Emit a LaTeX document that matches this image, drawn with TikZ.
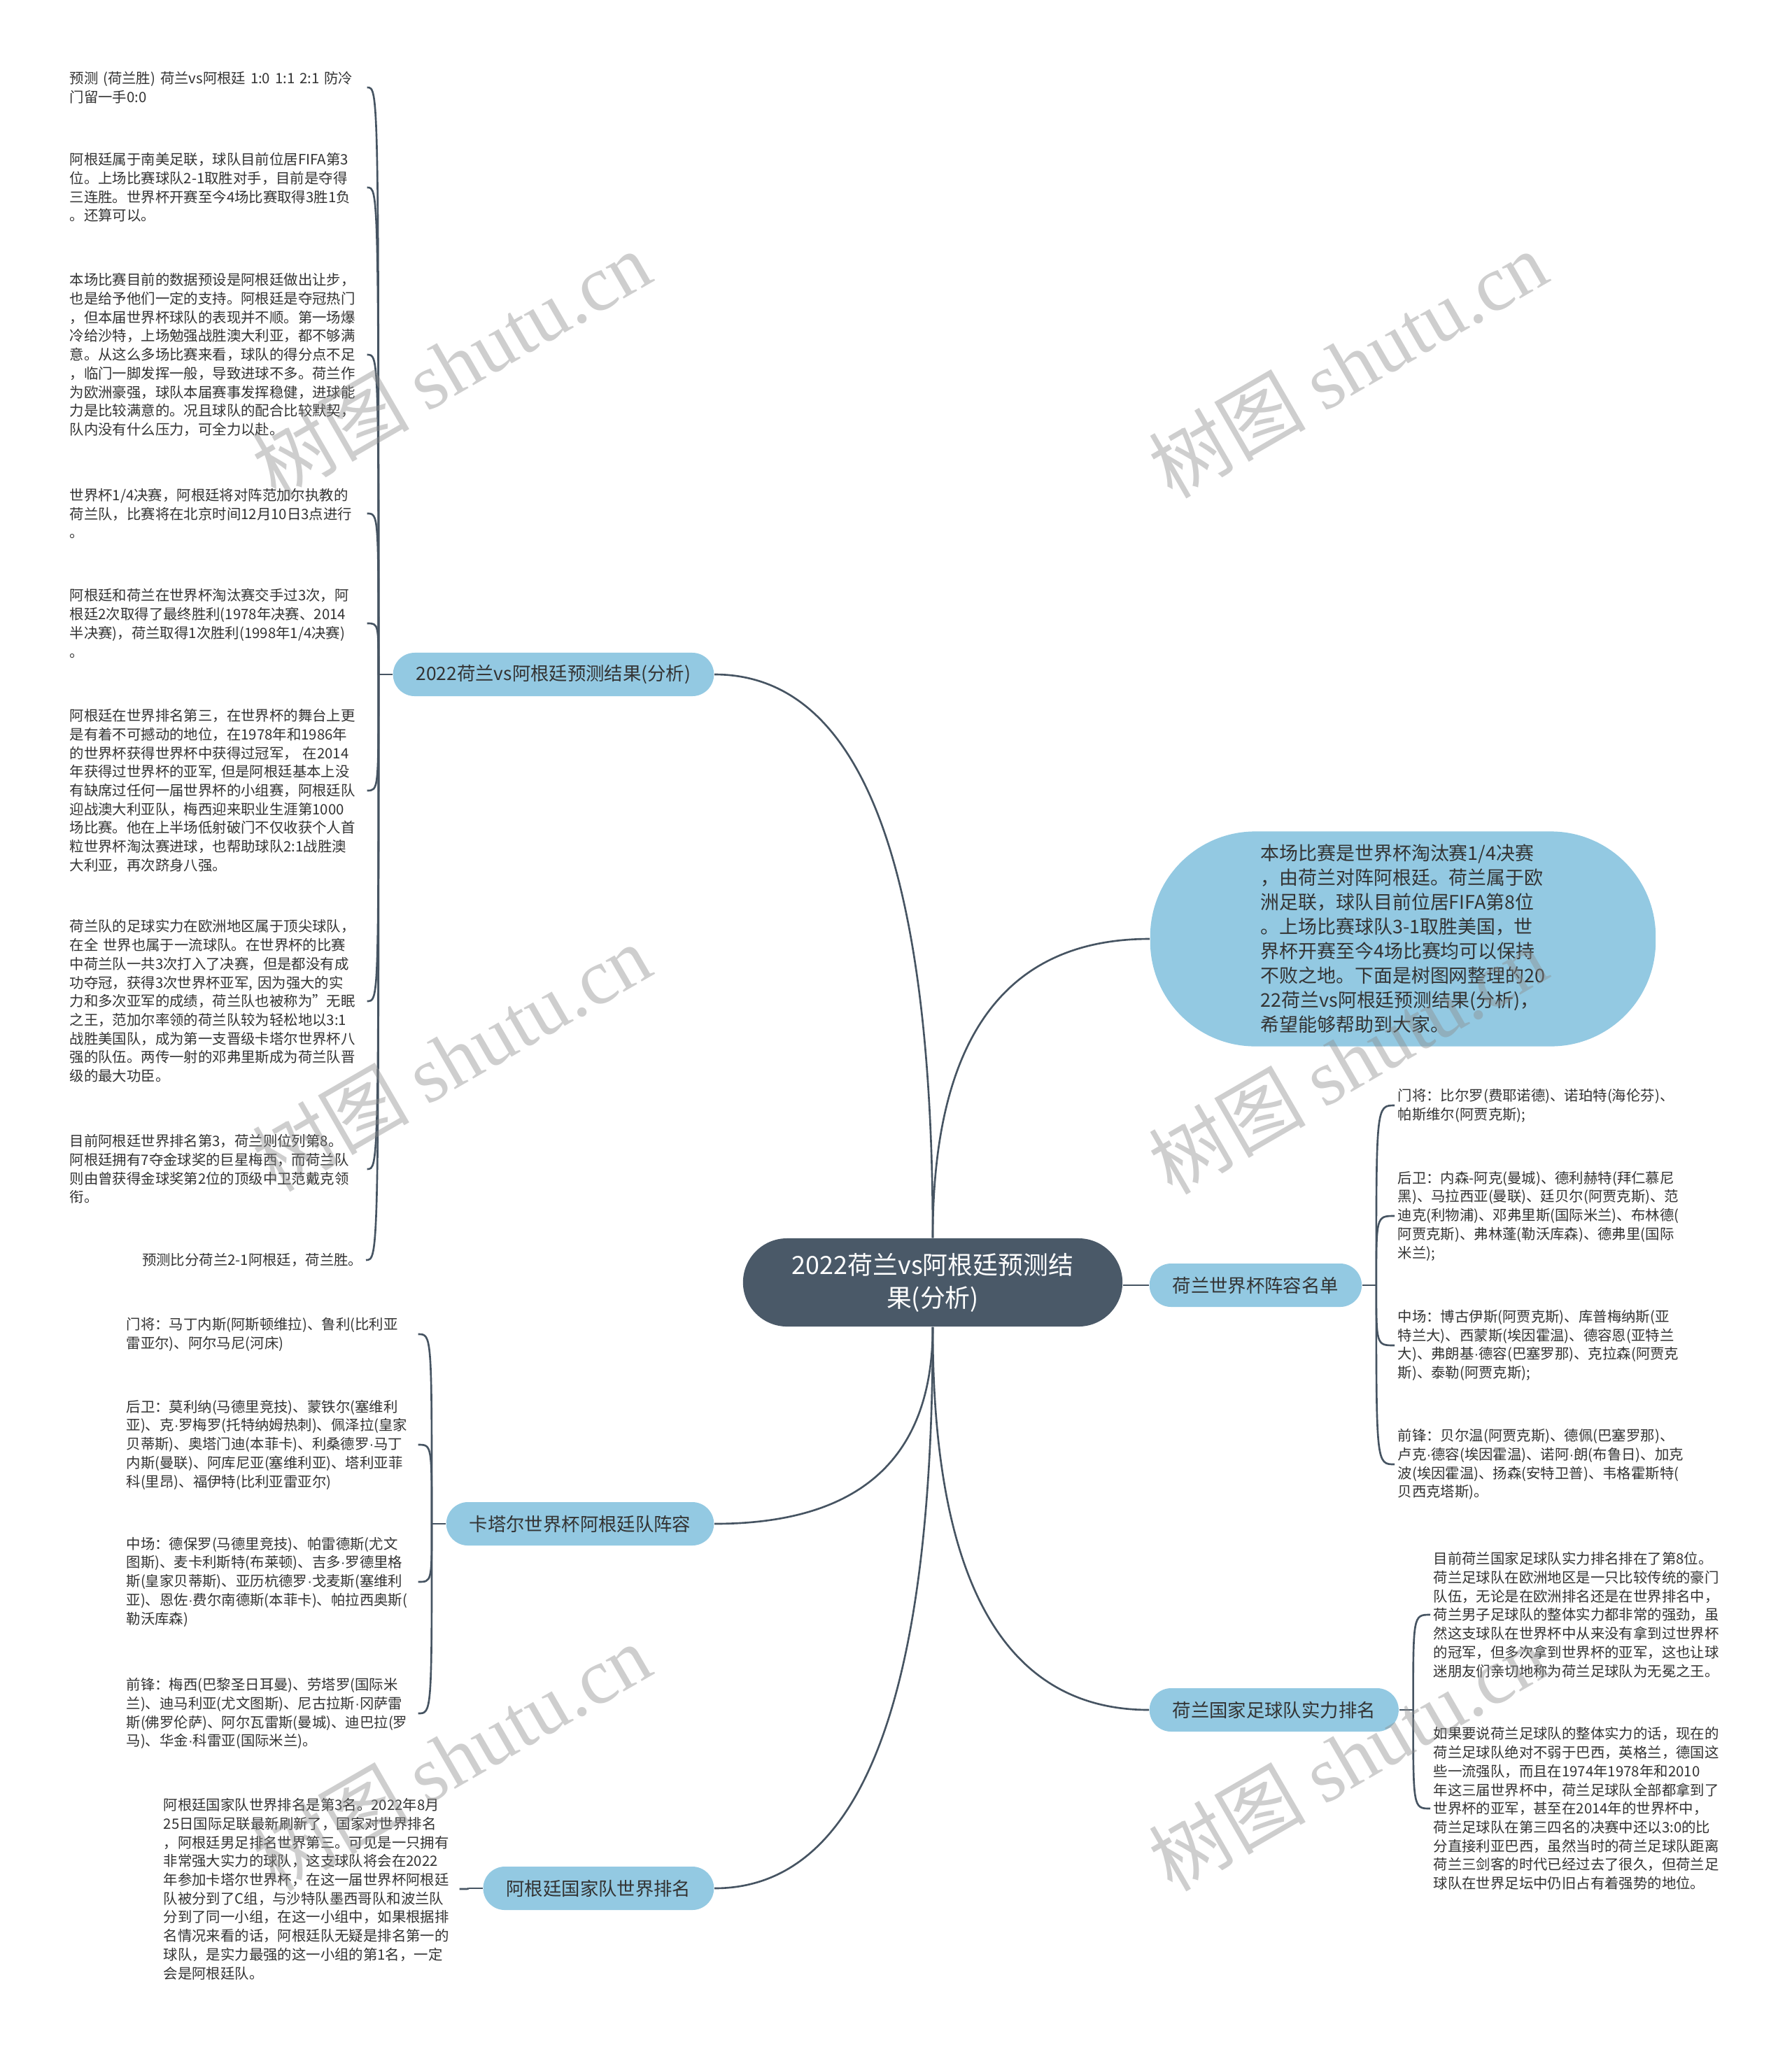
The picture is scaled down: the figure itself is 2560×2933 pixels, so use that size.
\documentclass[tikz,border=0pt]{standalone}
\usepackage{fontspec}
\setmainfont{Noto Sans CJK SC}
\newfontfamily\wmfont{Liberation Serif}
\newfontfamily\dotfont{Liberation Sans}
\newcommand{\mdot}{{\dotfont ·}}
\usetikzlibrary{calc}
\definecolor{mapdark}{RGB}{74,89,104}
\definecolor{mapblue}{RGB}{147,201,226}
\definecolor{mapline}{RGB}{70,84,98}
\definecolor{maptext}{RGB}{51,51,51}

\begin{document}
\begin{tikzpicture}[x=0.01cm,y=-0.01cm,
  hub/.style={fill=mapdark,text=white,rounded corners=0.63cm,minimum width=5.42cm,minimum height=1.26cm,align=center,font=\fontsize{10.2pt}{13.4pt}\selectfont},
  branch/.style={fill=mapblue,text=maptext,rounded corners=0.31cm,minimum height=0.62cm,inner xsep=0.33cm,font=\fontsize{7.5pt}{9pt}\selectfont},
  leaf/.style={text=maptext,align=left,inner xsep=0.04cm,inner ysep=0.02cm,font=\fontsize{5.8pt}{7.6pt}\selectfont},
  link/.style={draw=mapline,line width=0.75pt},
  wmark/.style={text=black!45,opacity=0.42,rotate=30,font=\fontsize{32pt}{32pt}\selectfont}]
\useasboundingbox (0,0) rectangle (2560,2933);
\fill[white] (0,0) rectangle (2560,2933);

% centre and main branches
\node[hub] (hub) at (1333,1833) {2022荷兰vs阿根廷预测结\\果(分析)};
\node[branch,anchor=east] (pred) at (1021,964) {2022荷兰vs阿根廷预测结果(分析)};
\node[branch,anchor=east] (qatar) at (1021,2178) {卡塔尔世界杯阿根廷队阵容};
\node[branch,anchor=east] (rank) at (1021,2699) {阿根廷国家队世界排名};
\node[branch,anchor=west] (squad) at (1642,1837) {荷兰世界杯阵容名单};
\node[branch,anchor=west] (power) at (1642,2444) {荷兰国家足球队实力排名};
\node[fill=mapblue,rounded corners=1.5cm,minimum width=7.22cm,minimum height=3.07cm,text width=4.06cm,align=left,text=maptext,font=\fontsize{7.65pt}{9.96pt}\selectfont] (intro) at (2005,1342) {本场比赛是世界杯淘汰赛1/4决赛\\，由荷兰对阵阿根廷。荷兰属于欧\\洲足联，球队目前位居FIFA第8位\\。上场比赛球队3-1取胜美国，世\\界杯开赛至今4场比赛均可以保持\\不败之地。下面是树图网整理的20\\22荷兰vs阿根廷预测结果(分析)，\\希望能够帮助到大家。};

% prediction leaves
\node[leaf,anchor=west,text width=4.2cm] (pred1) at (95,125) {预测 (荷兰胜) 荷兰vs阿根廷 1:0 1:1 2:1 防冷\\门留一手0:0};
\node[leaf,anchor=west,text width=4.2cm] (pred2) at (95,268) {阿根廷属于南美足联，球队目前位居FIFA第3\\位。上场比赛球队2-1取胜对手，目前是夺得\\三连胜。世界杯开赛至今4场比赛取得3胜1负\\。还算可以。};
\node[leaf,anchor=west,text width=4.2cm] (pred3) at (95,507) {本场比赛目前的数据预设是阿根廷做出让步，\\也是给予他们一定的支持。阿根廷是夺冠热门\\，但本届世界杯球队的表现并不顺。第一场爆\\冷给沙特，上场勉强战胜澳大利亚，都不够满\\意。从这么多场比赛来看，球队的得分点不足\\，临门一脚发挥一般，导致进球不多。荷兰作\\为欧洲豪强，球队本届赛事发挥稳健，进球能\\力是比较满意的。况且球队的配合比较默契，\\队内没有什么压力，可全力以赴。};
\node[leaf,anchor=west,text width=4.2cm] (pred4) at (95,734) {世界杯1/4决赛，阿根廷将对阵范加尔执教的\\荷兰队，比赛将在北京时间12月10日3点进行\\。};
\node[leaf,anchor=west,text width=4.2cm] (pred5) at (95,891) {阿根廷和荷兰在世界杯淘汰赛交手过3次，阿\\根廷2次取得了最终胜利(1978年决赛、2014\\半决赛)，荷兰取得1次胜利(1998年1/4决赛)\\。};
\node[leaf,anchor=west,text width=4.2cm] (pred6) at (95,1130) {阿根廷在世界排名第三，在世界杯的舞台上更\\是有着不可撼动的地位，在1978年和1986年\\的世界杯获得世界杯中获得过冠军， 在2014\\年获得过世界杯的亚军, 但是阿根廷基本上没\\有缺席过任何一届世界杯的小组赛，阿根廷队\\迎战澳大利亚队，梅西迎来职业生涯第1000\\场比赛。他在上半场低射破门不仅收获个人首\\粒世界杯淘汰赛进球，也帮助球队2:1战胜澳\\大利亚，再次跻身八强。};
\node[leaf,anchor=west,text width=4.2cm] (pred7) at (95,1431) {荷兰队的足球实力在欧洲地区属于顶尖球队，\\在全 世界也属于一流球队。在世界杯的比赛\\中荷兰队一共3次打入了决赛，但是都没有成\\功夺冠，获得3次世界杯亚军, 因为强大的实\\力和多次亚军的成绩，荷兰队也被称为\symbol{34}无眠\\之王，范加尔率领的荷兰队较为轻松地以3:1\\战胜美国队，成为第一支晋级卡塔尔世界杯八\\强的队伍。两传一射的邓弗里斯成为荷兰队晋\\级的最大功臣。};
\node[leaf,anchor=west,text width=4.2cm] (pred8) at (95,1671) {目前阿根廷世界排名第3，荷兰则位列第8。\\阿根廷拥有7夺金球奖的巨星梅西，而荷兰队\\则由曾获得金球奖第2位的顶级中卫范戴克领\\衔。};
\node[leaf,anchor=east] (pred9) at (523,1801) {预测比分荷兰2-1阿根廷，荷兰胜。};

% argentina squad leaves
\node[leaf,anchor=west,text width=4.12cm] (arg1) at (176,1907) {门将：马丁内斯(阿斯顿维拉)、鲁利(比利亚\\雷亚尔)、阿尔马尼(河床)};
\node[leaf,anchor=west,text width=4.12cm] (arg2) at (176,2065) {后卫：莫利纳(马德里竞技)、蒙铁尔(塞维利\\亚)、克\mdot 罗梅罗(托特纳姆热刺)、佩泽拉(皇家\\贝蒂斯)、奥塔门迪(本菲卡)、利桑德罗\mdot 马丁\\内斯(曼联)、阿库尼亚(塞维利亚)、塔利亚菲\\科(里昂)、福伊特(比利亚雷亚尔)};
\node[leaf,anchor=west,text width=4.12cm] (arg3) at (176,2261) {中场：德保罗(马德里竞技)、帕雷德斯(尤文\\图斯)、麦卡利斯特(布莱顿)、吉多\mdot 罗德里格\\斯(皇家贝蒂斯)、亚历杭德罗\mdot 戈麦斯(塞维利\\亚)、恩佐\mdot 费尔南德斯(本菲卡)、帕拉西奥斯(\\勒沃库森)};
\node[leaf,anchor=west,text width=4.12cm] (arg4) at (176,2449) {前锋：梅西(巴黎圣日耳曼)、劳塔罗(国际米\\兰)、迪马利亚(尤文图斯)、尼古拉斯\mdot 冈萨雷\\斯(佛罗伦萨)、阿尔瓦雷斯(曼城)、迪巴拉(罗\\马)、华金\mdot 科雷亚(国际米兰)。};

% ranking leaf
\node[leaf,anchor=west,text width=4.18cm] (rank1) at (229,2700) {阿根廷国家队世界排名是第3名。2022年8月\\25日国际足联最新刷新了，国家对世界排名\\，阿根廷男足排名世界第三。可见是一只拥有\\非常强大实力的球队，这支球队将会在2022\\年参加卡塔尔世界杯，在这一届世界杯阿根廷\\队被分到了C组，与沙特队墨西哥队和波兰队\\分到了同一小组，在这一小组中，如果根据排\\名情况来看的话，阿根廷队无疑是排名第一的\\球队，是实力最强的这一小组的第1名，一定\\会是阿根廷队。};

% dutch squad leaves
\node[leaf,anchor=west,text width=4.1cm] (sq1) at (1993,1580) {门将：比尔罗(费耶诺德)、诺珀特(海伦芬)、\\帕斯维尔(阿贾克斯);};
\node[leaf,anchor=west,text width=4.1cm] (sq2) at (1993,1738) {后卫：内森-阿克(曼城)、德利赫特(拜仁慕尼\\黑)、马拉西亚(曼联)、廷贝尔(阿贾克斯)、范\\迪克(利物浦)、邓弗里斯(国际米兰)、布林德(\\阿贾克斯)、弗林蓬(勒沃库森)、德弗里(国际\\米兰);};
\node[leaf,anchor=west,text width=4.1cm] (sq3) at (1993,1923) {中场：博古伊斯(阿贾克斯)、库普梅纳斯(亚\\特兰大)、西蒙斯(埃因霍温)、德容恩(亚特兰\\大)、弗朗基\mdot 德容(巴塞罗那)、克拉森(阿贾克\\斯)、泰勒(阿贾克斯);};
\node[leaf,anchor=west,text width=4.1cm] (sq4) at (1993,2093) {前锋：贝尔温(阿贾克斯)、德佩(巴塞罗那)、\\卢克\mdot 德容(埃因霍温)、诺阿\mdot 朗(布鲁日)、加克\\波(埃因霍温)、扬森(安特卫普)、韦格霍斯特(\\贝西克塔斯)。};

% strength leaves
\node[leaf,anchor=west,text width=4.2cm] (pw1) at (2044,2308) {目前荷兰国家足球队实力排名排在了第8位。\\荷兰足球队在欧洲地区是一只比较传统的豪门\\队伍，无论是在欧洲排名还是在世界排名中，\\荷兰男子足球队的整体实力都非常的强劲，虽\\然这支球队在世界杯中从来没有拿到过世界杯\\的冠军，但多次拿到世界杯的亚军，这也让球\\迷朋友们亲切地称为荷兰足球队为无冕之王。};
\node[leaf,anchor=west,text width=4.2cm] (pw2) at (2044,2585) {如果要说荷兰足球队的整体实力的话，现在的\\荷兰足球队绝对不弱于巴西，英格兰，德国这\\些一流强队，而且在1974年1978年和2010\\年这三届世界杯中，荷兰足球队全部都拿到了\\世界杯的亚军，甚至在2014年的世界杯中，\\荷兰足球队在第三四名的决赛中还以3:0的比\\分直接利亚巴西，虽然当时的荷兰足球队距离\\荷兰三剑客的时代已经过去了很久，但荷兰足\\球队在世界足坛中仍旧占有着强势的地位。};

% hub to branches
\draw[link] (hub.north) .. controls ($(hub.north)!.667!(hub.north |- pred.east)$) and ($(pred.east)!.667!(hub.north |- pred.east)$) .. (pred.east);
\draw[link] (hub.north) .. controls ($(hub.north)!.667!(hub.north |- intro.west)$) and ($(intro.west)!.667!(hub.north |- intro.west)$) .. (intro.west);
\draw[link] (hub.south) .. controls ($(hub.south)!.667!(hub.south |- qatar.east)$) and ($(qatar.east)!.667!(hub.south |- qatar.east)$) .. (qatar.east);
\draw[link] (hub.south) .. controls ($(hub.south)!.667!(hub.south |- rank.east)$) and ($(rank.east)!.667!(hub.south |- rank.east)$) .. (rank.east);
\draw[link] (hub.south) .. controls ($(hub.south)!.667!(hub.south |- power.west)$) and ($(power.west)!.667!(hub.south |- power.west)$) .. (power.west);
\draw[link] (hub.east |- squad.west) -- (squad.west);

% forks
\coordinate (predfork) at ($(pred.west)+(-20,0)$);
\coordinate (argfork) at ($(qatar.west)+(-20,0)$);
\coordinate (rankfork) at ($(rank.west)+(-20,0)$);
\coordinate (sqfork) at ($(squad.east)+(20,0)$);
\coordinate (pwfork) at ($(power.east)+(20,0)$);
\draw[link] (pred.west) -- (predfork);
\draw[link] (qatar.west) -- (argfork);
\draw[link] (rank.west) -- (rankfork);
\draw[link] (squad.east) -- (sqfork);
\draw[link] (power.east) -- (pwfork);

% branches to leaves
\draw[link] (predfork) .. controls (predfork |- pred1.east) .. (pred1.east);
\draw[link] (predfork) .. controls (predfork |- pred2.east) .. (pred2.east);
\draw[link] (predfork) .. controls (predfork |- pred3.east) .. (pred3.east);
\draw[link] (predfork) .. controls (predfork |- pred4.east) .. (pred4.east);
\draw[link] (predfork) .. controls (predfork |- pred5.east) .. (pred5.east);
\draw[link] (predfork) .. controls (predfork |- pred6.east) .. (pred6.east);
\draw[link] (predfork) .. controls (predfork |- pred7.east) .. (pred7.east);
\draw[link] (predfork) .. controls (predfork |- pred8.east) .. (pred8.east);
\draw[link] (predfork) .. controls (predfork |- pred9.east) .. (pred9.east);
\draw[link] (argfork) .. controls (argfork |- arg1.east) .. (arg1.east);
\draw[link] (argfork) .. controls (argfork |- arg2.east) .. (arg2.east);
\draw[link] (argfork) .. controls (argfork |- arg3.east) .. (arg3.east);
\draw[link] (argfork) .. controls (argfork |- arg4.east) .. (arg4.east);
\draw[link] (rankfork) .. controls (rankfork |- rank1.east) .. (rank1.east);
\draw[link] (sqfork) .. controls (sqfork |- sq1.west) .. (sq1.west);
\draw[link] (sqfork) .. controls (sqfork |- sq2.west) .. (sq2.west);
\draw[link] (sqfork) .. controls (sqfork |- sq3.west) .. (sq3.west);
\draw[link] (sqfork) .. controls (sqfork |- sq4.west) .. (sq4.west);
\draw[link] (pwfork) .. controls (pwfork |- pw1.west) .. (pw1.west);
\draw[link] (pwfork) .. controls (pwfork |- pw2.west) .. (pw2.west);

% watermarks
\node[wmark] (wm1) at (645,520) {树图 {\wmfont shutu.cn}};
\node[wmark] (wm2) at (1926,520) {树图 {\wmfont shutu.cn}};
\node[wmark] (wm3) at (645,1511) {树图 {\wmfont shutu.cn}};
\node[wmark] (wm4) at (1926,1515) {树图 {\wmfont shutu.cn}};
\node[wmark] (wm5) at (645,2511) {树图 {\wmfont shutu.cn}};
\node[wmark] (wm6) at (1926,2511) {树图 {\wmfont shutu.cn}};
\end{tikzpicture}
\end{document}
